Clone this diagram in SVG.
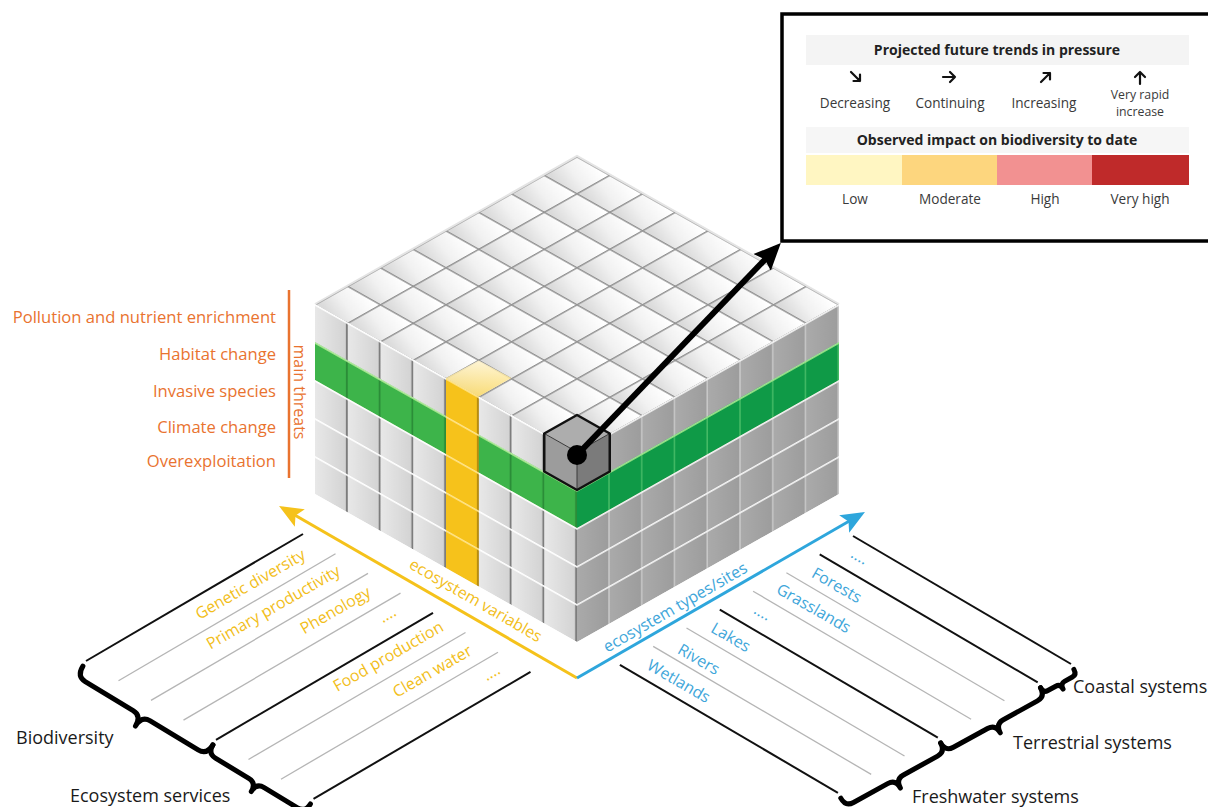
<svg xmlns="http://www.w3.org/2000/svg" width="1208" height="807" viewBox="0 0 1208 807">
  <defs>
    <style>
      .lbl{font-family:"Open Sans","Noto Sans","Liberation Sans",sans-serif;font-size:16px}
      .thr{fill:#e9732f;text-anchor:end;font-size:16.6px}
      .yel{fill:#f2be1a;text-anchor:middle}
      .blu{fill:#3ea6da;text-anchor:middle}
      .blk{fill:#1a1a1a;font-size:18px}
      .leg{font-family:"Open Sans","Noto Sans","Liberation Sans",sans-serif;font-size:13.6px;fill:#3a3a3a;text-anchor:middle}
      .legs{font-size:12.3px}
      .legh{font-weight:bold;fill:#222;font-size:14px}
      .ln-k{stroke:#111;stroke-width:2}
      .ln-g{stroke:#b5b5b5;stroke-width:1.3}
      .brace{fill:none;stroke:#000;stroke-width:5;stroke-linecap:round;stroke-linejoin:round}
      .arw{fill:none;stroke:#111;stroke-width:2.2;stroke-linecap:round;stroke-linejoin:round}
    </style>
    <!-- cell shading -->
    <linearGradient id="gTop" x1="0.7" y1="0" x2="0.3" y2="1">
      <stop offset="0" stop-color="#ffffff"/>
      <stop offset="0.55" stop-color="#f1f1f1"/>
      <stop offset="1" stop-color="#dadada"/>
    </linearGradient>
    <linearGradient id="gLeft" x1="0" y1="0" x2="1" y2="0">
      <stop offset="0" stop-color="#e8e8e8"/>
      <stop offset="1" stop-color="#d2d2d2"/>
    </linearGradient>
    <linearGradient id="gRight" x1="0" y1="0" x2="1" y2="0">
      <stop offset="0" stop-color="#aaaaaa"/>
      <stop offset="1" stop-color="#9c9c9c"/>
    </linearGradient>
    <linearGradient id="gYelTop" x1="0" y1="1" x2="0" y2="0">
      <stop offset="0" stop-color="#fbd964"/>
      <stop offset="1" stop-color="#fff4cf"/>
    </linearGradient>
    <!-- top face: square tile mapped onto the isometric diamond lattice -->
    <pattern id="pTop" patternUnits="userSpaceOnUse" width="37" height="37" patternTransform="matrix(0.88514 0.5 -0.88514 0.5 577 156)">
      <rect width="37" height="37" fill="url(#gTop)"/>
      <rect width="37" height="1.6" fill="#919191"/>
      <rect width="1.6" height="37" fill="#919191"/>
    </pattern>
    <!-- left face tiles -->
    <pattern id="pLeft" patternUnits="userSpaceOnUse" width="32.75" height="38" patternTransform="matrix(1 0.56489 0 1 315 304)">
      <rect width="32.75" height="38" fill="url(#gLeft)"/>
      <rect x="30.9" width="1.85" height="38" fill="#7d7d7d"/>
      <rect width="32.75" height="1.8" fill="#ffffff"/>
    </pattern>
    <pattern id="pGreenL" patternUnits="userSpaceOnUse" width="32.75" height="38" patternTransform="matrix(1 0.56489 0 1 315 304)">
      <rect width="32.75" height="38" fill="#3db44a"/>
      <rect x="30.9" width="1.85" height="38" fill="#2b8d38"/>
      <rect width="32.75" height="1.8" fill="#b2ea98"/>
    </pattern>
    <pattern id="pYellow" patternUnits="userSpaceOnUse" width="32.75" height="38" patternTransform="matrix(1 0.56489 0 1 315 304)">
      <rect width="32.75" height="38" fill="#f6c21b"/>
      <rect x="30.9" width="1.85" height="38" fill="#b88c0e"/>
      <rect width="32.75" height="1.8" fill="#ffe48a"/>
    </pattern>
    <!-- right face tiles -->
    <pattern id="pRight" patternUnits="userSpaceOnUse" width="32.75" height="38" patternTransform="matrix(1 -0.56489 0 1 577 452)">
      <rect width="32.75" height="38" fill="url(#gRight)"/>
      <rect x="31.25" width="1.5" height="38" fill="#c8c8c8"/>
      <rect width="32.75" height="1.8" fill="#f4f4f4"/>
    </pattern>
    <pattern id="pGreenR" patternUnits="userSpaceOnUse" width="32.75" height="38" patternTransform="matrix(1 -0.56489 0 1 577 452)">
      <rect width="32.75" height="38" fill="#0f9a47"/>
      <rect x="31.25" width="1.5" height="38" fill="#45bb66"/>
      <rect width="32.75" height="1.8" fill="#a0e48c"/>
    </pattern>
    <!-- arrowheads -->
    <marker id="headY" markerUnits="userSpaceOnUse" markerWidth="26" markerHeight="22" refX="20" refY="11" orient="auto">
      <path d="M0,1 L24,11 L0,21 L5,11 z" fill="#f5c21b"/>
    </marker>
    <marker id="headB" markerUnits="userSpaceOnUse" markerWidth="26" markerHeight="22" refX="20" refY="11" orient="auto">
      <path d="M0,1 L24,11 L0,21 L5,11 z" fill="#2ea6dc"/>
    </marker>
    <marker id="headK" markerUnits="userSpaceOnUse" markerWidth="30" markerHeight="26" refX="20" refY="13" orient="auto">
      <path d="M0,1 L27,13 L0,25 L4,13 z" fill="#000"/>
    </marker>
  </defs>

  <rect width="1208" height="807" fill="#ffffff"/>

  <!-- ecosystem variable rows (left) -->
  <g id="variables">
    <line class="ln-k" x1="86" y1="661" x2="303" y2="534"/>
    <line class="ln-g" x1="118.5" y1="680.7" x2="335.5" y2="553.7"/>
    <line class="ln-g" x1="151" y1="700.4" x2="368" y2="573.4"/>
    <line class="ln-g" x1="183.5" y1="720.1" x2="400.5" y2="593.1"/>
    <line class="ln-k" x1="216" y1="739.8" x2="433" y2="612.8"/>
    <line class="ln-g" x1="248.5" y1="759.5" x2="465.5" y2="632.5"/>
    <line class="ln-g" x1="281" y1="779.2" x2="498" y2="652.2"/>
    <line class="ln-k" x1="313.5" y1="798.9" x2="530.5" y2="671.9"/>
    <g class="lbl yel">
      <text transform="translate(253,589) rotate(-30)">Genetic diversity</text>
      <text transform="translate(276,612) rotate(-30)">Primary productivity</text>
      <text transform="translate(338,615) rotate(-30)">Phenology</text>
      <text transform="translate(390,619) rotate(-30)">....</text>
      <text transform="translate(391,661) rotate(-30)">Food production</text>
      <text transform="translate(435,676) rotate(-30)">Clean water</text>
      <text transform="translate(494,677) rotate(-30)">....</text>
    </g>
    <path class="brace" transform="translate(82.9,666.1) rotate(31.2)" d="M0,0 Q0,12 10,12 L66,12 Q76,12 76,24 Q76,12 86,12 L142,12 Q152,12 152,0"/>
    <path class="brace" transform="translate(212.9,744.9) rotate(31.2)" d="M0,0 Q0,10 9,10 L48,10 Q57,10 57,20 Q57,10 66,10 L105,10 Q114,10 114,0"/>
    <text class="lbl blk" x="16" y="744">Biodiversity</text>
    <text class="lbl blk" x="70" y="802">Ecosystem services</text>
  </g>

  <!-- ecosystem type rows (right) -->
  <g id="types">
    <line class="ln-k" x1="853" y1="536" x2="1071" y2="664"/>
    <line class="ln-k" x1="819.7" y1="554.4" x2="1037.7" y2="682.4"/>
    <line class="ln-g" x1="786.4" y1="572.8" x2="1004.4" y2="700.8"/>
    <line class="ln-g" x1="753.1" y1="591.2" x2="971.1" y2="719.2"/>
    <line class="ln-k" x1="719.8" y1="609.6" x2="937.8" y2="737.6"/>
    <line class="ln-g" x1="686.5" y1="628" x2="904.5" y2="756"/>
    <line class="ln-g" x1="653.2" y1="646.4" x2="871.2" y2="774.4"/>
    <line class="ln-k" x1="619.9" y1="664.8" x2="837.9" y2="792.8"/>
    <g class="lbl blu">
      <text transform="translate(857,561) rotate(30)">....</text>
      <text transform="translate(834,590) rotate(30)">Forests</text>
      <text transform="translate(811,613) rotate(30)">Grasslands</text>
      <text transform="translate(760,617) rotate(30)">....</text>
      <text transform="translate(728,642) rotate(30)">Lakes</text>
      <text transform="translate(696,664) rotate(30)">Rivers</text>
      <text transform="translate(676,686) rotate(30)">Wetlands</text>
    </g>
    <path class="brace" transform="translate(1040.6,687.7) rotate(-28.9)" d="M0,0 Q0,6 5,6 L14,6 Q19,6 19,12 Q19,6 24,6 L33,6 Q38,6 38,0"/>
    <path class="brace" transform="translate(940.7,742.9) rotate(-28.9)" d="M0,0 Q0,10 9,10 L48,10 Q57,10 57,20 Q57,10 66,10 L105,10 Q114,10 114,0"/>
    <path class="brace" transform="translate(840.8,798.1) rotate(-28.9)" d="M0,0 Q0,10 9,10 L48,10 Q57,10 57,20 Q57,10 66,10 L105,10 Q114,10 114,0"/>
    <text class="lbl blk" x="1073" y="693">Coastal systems</text>
    <text class="lbl blk" x="1013" y="749">Terrestrial systems</text>
    <text class="lbl blk" x="912" y="803">Freshwater systems</text>
  </g>

  <!-- stacked cube -->
  <g id="cube">
    <polygon points="577,156 839,304 577,452 315,304" fill="url(#pTop)"/>
    <polyline points="315,304 577,156 839,304" fill="none" stroke="#e4e4e4" stroke-width="2"/>
    <polygon points="315,304 577,452 577,642 315,494" fill="url(#pLeft)"/>
    <polygon points="577,452 839,304 839,494 577,642" fill="url(#pRight)"/>
    <polygon points="315,342 577,490 577,528 315,380" fill="url(#pGreenL)"/>
    <polygon points="577,490 839,342 839,380 577,528" fill="url(#pGreenR)"/>
    <polygon points="446,378 478.75,396.5 478.75,586.5 446,568" fill="url(#pYellow)"/>
    <polygon points="478.75,360.5 511.5,378 478.75,396.5 446,378" fill="url(#gYelTop)" opacity="0.85"/>
  </g>

  <!-- highlighted cell -->
  <g id="selected-cell">
    <polygon points="577,415 609.75,433.5 577,452 544.25,433.5" fill="#adadad"/>
    <polygon points="544.25,433.5 577,452 577,490 544.25,471.5" fill="#9c9c9c"/>
    <polygon points="577,452 609.75,433.5 609.75,471.5 577,490" fill="#7b7b7b"/>
    <path d="M544.25,433.5 L577,452 L609.75,433.5 M577,452 V490" fill="none" stroke="#3a3a3a" stroke-width="1"/>
    <polygon points="577,415 609.75,433.5 609.75,471.5 577,490 544.25,471.5 544.25,433.5" fill="none" stroke="#111" stroke-width="2.5" stroke-linejoin="round"/>
  </g>

  <!-- threat layers -->
  <g id="threats">
    <line x1="289" y1="290" x2="289" y2="478" stroke="#e9732f" stroke-width="2.5"/>
    <text class="lbl" fill="#e9732f" text-anchor="middle" transform="translate(294,392) rotate(90)">main threats</text>
    <g class="lbl thr">
      <text x="276" y="323">Pollution and nutrient enrichment</text>
      <text x="276" y="360">Habitat change</text>
      <text x="276" y="397">Invasive species</text>
      <text x="276" y="433">Climate change</text>
      <text x="276" y="467">Overexploitation</text>
    </g>
  </g>

  <!-- axes and pointer -->
  <g id="connectors">
    <line x1="577" y1="678" x2="282.5" y2="508" stroke="#f5c21b" stroke-width="3" marker-end="url(#headY)"/>
    <line x1="577" y1="678" x2="861.5" y2="514" stroke="#2ea6dc" stroke-width="3" marker-end="url(#headB)"/>
    <line x1="577" y1="455" x2="776" y2="248" stroke="#000" stroke-width="6" marker-end="url(#headK)"/>
    <circle cx="577" cy="455" r="10" fill="#000"/>
  </g>

  <g id="axis-labels" class="lbl">
    <text class="yel" transform="translate(473,605) rotate(30)">ecosystem variables</text>
    <text class="blu" transform="translate(678,612) rotate(-30)">ecosystem types/sites</text>
  </g>

  <!-- legend -->
  <g id="legend">
    <rect x="782" y="14" width="450" height="227" fill="#ffffff" stroke="#000" stroke-width="3.5"/>
    <rect x="806" y="35" width="383" height="30" fill="#f4f4f4"/>
    <text class="leg legh" x="997" y="55">Projected future trends in pressure</text>
    <path class="arw" d="M851,72 L860,81 M853.5,81 H860 V74.5"/>
    <path class="arw" d="M943,77 H955 M950,72 L955,77 L950,82"/>
    <path class="arw" d="M1041,82 L1050,73 M1043.5,73 H1050 V79.5"/>
    <path class="arw" d="M1140,84 V72 M1135,77 L1140,72 L1145,77"/>
    <text class="leg" x="855" y="108">Decreasing</text>
    <text class="leg" x="950" y="108">Continuing</text>
    <text class="leg" x="1044" y="108">Increasing</text>
    <text class="leg legs" x="1140" y="98.5">Very rapid</text>
    <text class="leg legs" x="1140" y="115.5">increase</text>
    <rect x="806" y="127" width="383" height="26" fill="#f6f6f6"/>
    <text class="leg legh" x="997" y="145">Observed impact on biodiversity to date</text>
    <rect x="806" y="155" width="96" height="30" fill="#fff6c2"/>
    <rect x="902" y="155" width="95" height="30" fill="#fdd67e"/>
    <rect x="997" y="155" width="95" height="30" fill="#f29191"/>
    <rect x="1092" y="155" width="97" height="30" fill="#bf2a2a"/>
    <text class="leg" x="855" y="204">Low</text>
    <text class="leg" x="950" y="204">Moderate</text>
    <text class="leg" x="1045" y="204">High</text>
    <text class="leg" x="1140" y="204">Very high</text>
  </g>
</svg>
